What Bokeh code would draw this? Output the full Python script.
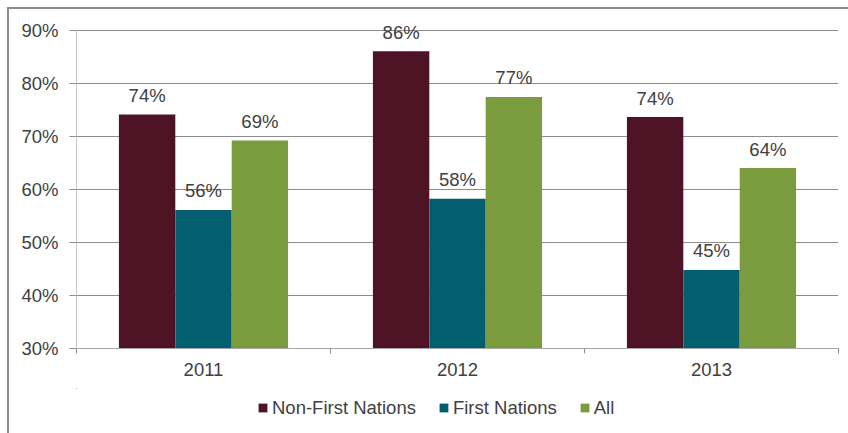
from bokeh.plotting import figure
from bokeh.models import Range1d, FixedTicker, Legend, LegendItem, ColumnDataSource
from bokeh.layouts import column
from bokeh.core.properties import value
from bokeh.embed import file_html
from bokeh.resources import INLINE
import numpy as np

years = ["2011", "2012", "2013"]
series = ["Non-First Nations", "First Nations", "All"]
non_first_nations = [74.1, 86.0, 73.6]
first_nations = [56.1, 58.2, 44.8]
all_students = [69.2, 77.4, 64.0]
y_ticks = [30, 40, 50, 60, 70, 80, 90]
colors = ["#4E1426", "#035F6F", "#7A9B3E"]

FONT = "Liberation Sans"
FS = "18.5px"
TXT = "#404040"

p = figure(width=839, height=379, output_backend="svg", toolbar_location=None,
           x_range=Range1d(0, len(years)), y_range=Range1d(30, 93.3),
           min_border_left=67, min_border_right=10, min_border_top=3,
           min_border_bottom=40)
p.outline_line_color = None
p.xgrid.grid_line_color = None
p.ygrid.grid_line_color = "#8c8c8c"

# y axis
p.yaxis.ticker = FixedTicker(ticks=y_ticks)
p.yaxis.bounds = (y_ticks[0], y_ticks[-1])
p.yaxis.major_label_overrides = {t: f"{t}%" for t in y_ticks}
p.yaxis.axis_line_color = "#c8c8c8"
p.yaxis.major_tick_line_color = "#8c8c8c"
p.yaxis.major_tick_out = 7
p.yaxis.major_tick_in = 0
p.yaxis.minor_tick_line_color = None
p.yaxis.major_label_standoff = 11
p.yaxis.major_label_text_font = FONT
p.yaxis.major_label_text_font_size = FS
p.yaxis.major_label_text_color = TXT

# x axis
centers = [i + 0.5 for i in range(len(years))]
p.xaxis.ticker = FixedTicker(ticks=centers, minor_ticks=list(range(len(years) + 1)))
p.xaxis.major_label_overrides = {c: y for c, y in zip(centers, years)}
p.xaxis.major_tick_line_color = None
p.xaxis.major_tick_out = 0
p.xaxis.major_tick_in = 0
p.xaxis.minor_tick_line_color = "#8c8c8c"
p.xaxis.minor_tick_out = 5
p.xaxis.minor_tick_in = 0
p.xaxis.axis_line_color = "#a6a6a6"
p.xaxis.major_label_standoff = 9
p.xaxis.major_label_text_font = FONT
p.xaxis.major_label_text_font_size = FS
p.xaxis.major_label_text_color = TXT

# legend strip (shares the bar data; its ranges show none of the bars)
p2 = figure(width=839, height=45, output_backend="svg", toolbar_location=None,
            x_range=Range1d(100, 101), y_range=Range1d(-101, -100),
            x_axis_type=None, y_axis_type=None,
            min_border_left=0, min_border_right=0, min_border_top=0, min_border_bottom=0)
p2.outline_line_color = None
p2.xgrid.visible = False
p2.ygrid.visible = False

bw = 0.222
items = []
for k, (name, vals, col) in enumerate(zip(series, [non_first_nations, first_nations, all_students], colors)):
    xs = np.arange(len(years)) + 0.5 + (k - 1) * bw
    src = ColumnDataSource(dict(x=xs, top=vals, label=[f"{round(v)}%" for v in vals]))
    p.vbar(x="x", top="top", bottom=30, width=bw, source=src, fill_color=col, line_color=None)
    p.text(x="x", y="top", text="label", source=src, text_align="center",
           text_baseline="alphabetic", y_offset=-19, text_font=value(FONT),
           text_font_size=FS, text_color=TXT)
    r = p2.vbar(x="x", top="top", bottom=30, width=bw, source=src, fill_color=col, line_color=None)
    items.append(LegendItem(label=name, renderers=[r]))

legend = Legend(items=items, orientation="horizontal", location=(181, 14.5),
                glyph_width=11, glyph_height=11, label_height=11, label_standoff=4,
                spacing=22, padding=0, margin=0, border_line_color=None,
                background_fill_alpha=0, label_text_font=FONT,
                label_text_font_size=FS, label_text_color=TXT)
p2.add_layout(legend, "center")

layout = column(p, p2, spacing=0,
                styles={"margin-left": "7px", "margin-top": "7px",
                        "border-left": "2px solid #8c8c8c",
                        "border-top": "2px solid #8c8c8c"})

open("out.html", "w").write(file_html(layout, INLINE))
